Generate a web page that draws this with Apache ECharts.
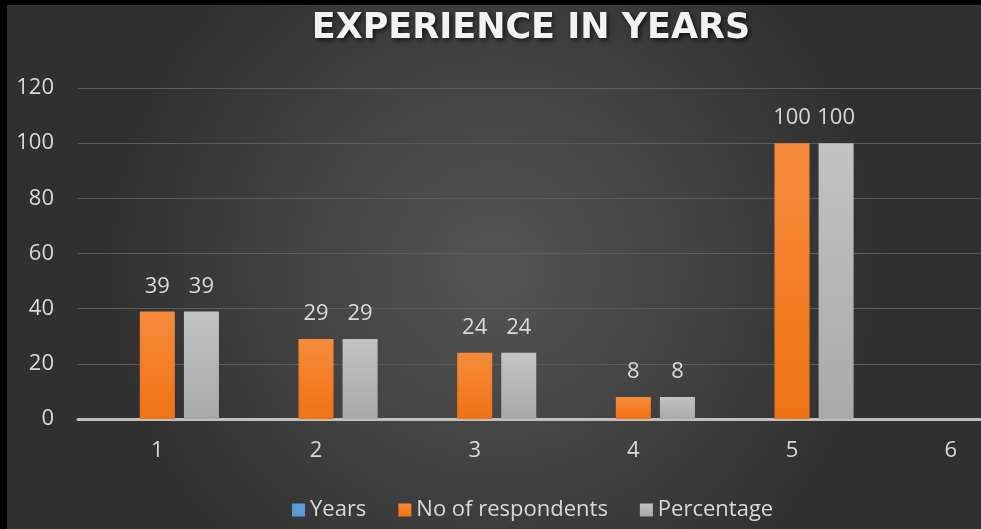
<!DOCTYPE html>
<html>
<head>
<meta charset="utf-8">
<script src="https://cdn.jsdelivr.net/npm/echarts@6/dist/echarts.min.js"></script>
<style>
  html, body { margin: 0; padding: 0; background: #000; }
  #chart {
    width: 974px;
    height: 524px;
    border-left: 7px solid #000;
    border-top: 5px solid #000;
  }
</style>
</head>
<body>
<div id="chart"></div>
<script>
const categories = ['1', '2', '3', '4', '5', '6']
const years = [null, null, null, null, null, null]
const respondents = [39, 29, 24, 8, 100, null]
const percentage = [39, 29, 24, 8, 100, null]
const yTicks = { min: 0, max: 120, interval: 20 }

const myChart = echarts.init(document.getElementById('chart'))

const textColor = '#d9d9d9'
const font = 'Open Sans'

const label = {
  show: true,
  position: 'top',
  distance: 14,
  color: textColor,
  fontFamily: font,
  fontSize: 22
}

const option = {
  backgroundColor: {
    type: 'radial',
    x: 0.5, y: 0.5, r: 0.75,
    colorStops: [
      { offset: 0, color: '#555555' },
      { offset: 1, color: '#303030' }
    ]
  },
  title: {
    text: 'EXPERIENCE IN YEARS',
    left: 519,
    textAlign: 'center',
    top: 1,
    textStyle: {
      color: '#f2f2f2',
      fontFamily: 'DejaVu Sans',
      fontWeight: 'bold',
      fontSize: 35,
      textShadowColor: 'rgba(0,0,0,0.7)',
      textShadowBlur: 5,
      textShadowOffsetX: 2,
      textShadowOffsetY: 2
    }
  },
  legend: {
    left: 280,
    top: 489,
    icon: 'rect',
    itemWidth: 13,
    itemHeight: 13,
    itemGap: 32,
    textStyle: { color: textColor, fontFamily: font, fontSize: 22 },
    data: ['Years', 'No of respondents', 'Percentage']
  },
  grid: {
    left: 71,
    top: 83,
    width: 952,
    bottom: 110,
    outerBoundsMode: 'none',
    containLabel: false
  },
  xAxis: {
    type: 'category',
    data: categories,
    axisLine: { lineStyle: { color: '#bfbfbf', width: 3 } },
    axisTick: { show: false },
    axisLabel: { color: textColor, fontFamily: font, fontSize: 22, margin: 21 }
  },
  yAxis: {
    type: 'value',
    min: yTicks.min,
    max: yTicks.max,
    interval: yTicks.interval,
    axisLine: { show: false },
    axisTick: { show: false },
    axisLabel: { color: textColor, fontFamily: font, fontSize: 22, margin: 24 },
    splitLine: { lineStyle: { color: '#5c5c5c', width: 1 } }
  },
  series: [
    {
      name: 'Years',
      type: 'bar',
      data: years,
      barWidth: 35,
      barGap: '26%',
      itemStyle: { color: '#5b9bd5' }
    },
    {
      name: 'No of respondents',
      type: 'bar',
      data: respondents,
      barWidth: 35,
      barGap: '26%',
      itemStyle: {
        color: {
          type: 'linear', x: 0, y: 0, x2: 0, y2: 1,
          colorStops: [
            { offset: 0, color: '#f68b3c' },
            { offset: 1, color: '#f07214' }
          ]
        }
      },
      label
    },
    {
      name: 'Percentage',
      type: 'bar',
      data: percentage,
      barWidth: 35,
      barGap: '26%',
      itemStyle: {
        color: {
          type: 'linear', x: 0, y: 0, x2: 0, y2: 1,
          colorStops: [
            { offset: 0, color: '#c3c3c3' },
            { offset: 1, color: '#a9a9a9' }
          ]
        }
      },
      label
    }
  ]
}

myChart.setOption(option)
</script>
</body>
</html>
